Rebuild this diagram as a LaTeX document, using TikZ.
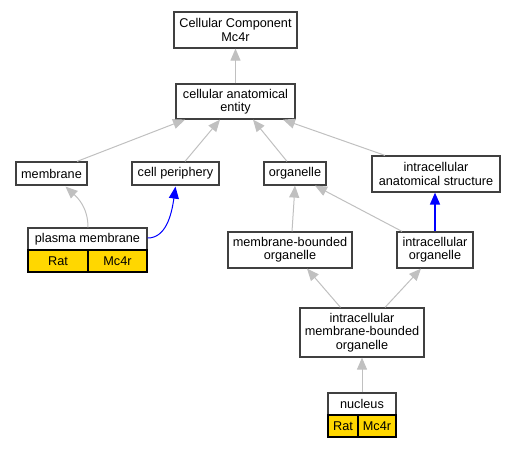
\documentclass[tikz,border=0pt]{standalone}
\usepackage{fontspec}
\setmainfont{Liberation Sans}
\usetikzlibrary{arrows.meta,calc}
\definecolor{boxc}{HTML}{404040}
\definecolor{edgec}{HTML}{C0C0C0}
\definecolor{gold}{HTML}{FFD700}
\begin{document}
\begin{tikzpicture}[x=1pt,y=-1pt,
  box/.style={draw=boxc,line width=1.2pt,fill=white,inner sep=0pt,align=center,
    font=\fontsize{12.7}{13.3}\selectfont},
  cell/.style={box,fill=gold,draw=black},
  gedge/.style={draw=edgec,line width=1pt,-{Triangle[length=12pt,width=10pt]},color=edgec},
  bedge/.style={draw=blue,line width=1pt,-{Triangle[length=12pt,width=10pt]},color=blue}]
\useasboundingbox (0,0) rectangle (516,448);
\node[box,minimum width=123pt,minimum height=36pt] (cc) at (235.5,30) {Cellular Component\\Mc4r};
\node[box,minimum width=119pt,minimum height=35pt] (cae) at (235.5,101.5) {cellular anatomical\\entity};
\node[box,minimum width=71pt,minimum height=23pt] (mem) at (51.5,173.5) {membrane};
\node[box,minimum width=87pt,minimum height=23pt] (cp) at (175.5,173.5) {cell periphery};
\node[box,minimum width=62pt,minimum height=23pt] (org) at (295,173.5) {organelle};
\node[box,minimum width=128pt,minimum height=36pt] (ias) at (436,174) {intracellular\\anatomical structure};
\node[box,minimum width=119pt,minimum height=22pt] (pm) at (87.5,239) {plasma membrane};
\node[cell,minimum width=60pt,minimum height=22pt] (pmrat) at (58,261) {Rat};
\node[cell,minimum width=59pt,minimum height=22pt] (pmgene) at (117.5,261) {Mc4r};
\node[box,minimum width=124pt,minimum height=36pt] (mbo) at (290,250) {membrane-bounded\\organelle};
\node[box,minimum width=76pt,minimum height=36pt] (io) at (435,250) {intracellular\\organelle};
\node[box,minimum width=124pt,minimum height=49pt] (imbo) at (362,332.5) {intracellular\\membrane-bounded\\organelle};
\node[box,minimum width=68pt,minimum height=22pt] (nuc) at (362,404) {nucleus};
\node[cell,minimum width=30pt,minimum height=22pt] (nucrat) at (343,426) {Rat};
\node[cell,minimum width=38pt,minimum height=22pt] (nucgene) at (377,426) {Mc4r};
% edges
\draw[gedge] (cae.north) -- (cc.south);
\draw[gedge] ([xshift=25.5pt]mem.north) -- ([xshift=-50.5pt]cae.south);
\draw[gedge] ([xshift=9.5pt]cp.north) -- ([xshift=-15.5pt]cae.south);
\draw[gedge] ([xshift=-8pt]org.north) -- ([xshift=17.5pt]cae.south);
\draw[gedge] ([xshift=-51pt]ias.north) -- ([xshift=47.5pt]cae.south);
\draw[gedge] ([xshift=0.5pt]pm.north) .. controls ([xshift=0.5pt,yshift=20pt]pm.north) and ([xshift=26pt,yshift=-12pt]mem.south) .. ([xshift=14pt,yshift=-1pt]mem.south);
\draw[bedge] ([yshift=1pt]pm.east) .. controls ([xshift=18pt,yshift=1pt]pm.east) and ([xshift=-4pt,yshift=-30pt]cp.south) .. ([yshift=-1pt]cp.south);
\draw[bedge,line width=1.6pt] (io.north) -- ([xshift=-1pt]ias.south);
\draw[gedge] ([xshift=2pt]mbo.north) -- (org.south);
\draw[gedge] ([xshift=-33pt]io.north) -- ([xshift=20pt]org.south);
\draw[gedge] ([xshift=-21.5pt]imbo.north) -- ([xshift=17pt]mbo.south);
\draw[gedge] ([xshift=23pt]imbo.north) -- ([xshift=-14pt]io.south);
\draw[gedge] (nuc.north) -- (imbo.south);
\end{tikzpicture}
\end{document}
